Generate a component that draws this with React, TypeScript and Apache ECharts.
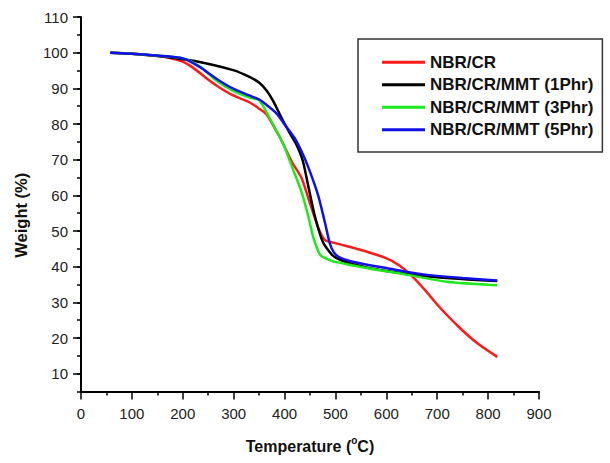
import React, { useEffect, useRef } from 'react';
import * as echarts from 'echarts';

const seriesNames = ['NBR/CR', 'NBR/CR/MMT (1Phr)', 'NBR/CR/MMT (3Phr)', 'NBR/CR/MMT (5Phr)'];
const seriesColors = ['#ff1a1a', '#000000', '#1ee81e', '#1010e8'];

const xTicks = [0, 100, 200, 300, 400, 500, 600, 700, 800, 900];
const yMajorTicks = [10, 20, 30, 40, 50, 60, 70, 80, 90, 100, 110];

// NBR/CR
const nbrCrTemp = [57, 100, 150, 180, 200, 220, 245, 266, 299, 331, 351, 364, 380, 390, 416, 433, 449, 466, 479, 500, 547, 596, 625, 650, 680, 703, 741, 779, 818];
const nbrCrWeight = [100, 99.7, 99.1, 98.3, 97.5, 95.8, 93.0, 90.8, 88.0, 86.1, 84.2, 82.8, 79.0, 76.5, 69.0, 65.0, 58.2, 51.0, 47.5, 46.6, 44.8, 42.6, 40.4, 37.4, 32.8, 28.9, 23.3, 18.5, 14.7];

// NBR/CR/MMT (1Phr)
const mmt1Temp = [57, 100, 135, 180, 233, 299, 331, 351, 365, 377, 387, 397, 410, 423, 436, 446, 459, 475, 495, 520, 560, 600, 650, 700, 760, 818];
const mmt1Weight = [100, 99.7, 99.3, 98.6, 97.4, 95.1, 93.2, 91.5, 89.3, 86.6, 83.8, 80.9, 77.5, 74.3, 69.6, 63.0, 54.5, 47.0, 43.1, 41.3, 39.8, 38.8, 37.8, 37.0, 36.4, 36.0];

// NBR/CR/MMT (3Phr)
const mmt3Temp = [57, 100, 150, 200, 233, 266, 299, 331, 345, 351, 364, 384, 397, 416, 433, 446, 456, 463, 469, 474, 495, 505, 566, 642, 718, 818];
const mmt3Weight = [100, 99.7, 99.2, 98.4, 96.2, 92.2, 89.3, 87.4, 87.0, 86.6, 83.5, 78.0, 74.5, 67.5, 61.1, 54.5, 48.5, 45.5, 43.5, 42.8, 41.5, 41.2, 39.5, 37.7, 35.8, 34.8];

// NBR/CR/MMT (5Phr)
const mmt5Temp = [57, 100, 150, 200, 233, 266, 299, 331, 351, 358, 384, 397, 420, 436, 449, 466, 479, 489, 497, 508, 528, 560, 604, 650, 680, 750, 818];
const mmt5Weight = [100, 99.7, 99.2, 98.4, 96.0, 92.7, 89.9, 88.0, 86.8, 86.1, 83.0, 80.5, 76.0, 71.5, 67.0, 60.0, 52.6, 46.5, 44.0, 42.6, 41.6, 40.6, 39.5, 38.3, 37.7, 36.8, 36.1];

const temps = [nbrCrTemp, mmt1Temp, mmt3Temp, mmt5Temp];
const weights = [nbrCrWeight, mmt1Weight, mmt3Weight, mmt5Weight];

const FONT = '"Liberation Sans", Arial, Helvetica, sans-serif';

function pairs(t: number[], w: number[]) {
  return t.map((x, i) => [x, w[i]]);
}

export default function App() {
  const ref = useRef<HTMLDivElement>(null);
  useEffect(() => {
    if (!ref.current) return;
    const chart = echarts.init(ref.current, undefined, { renderer: 'svg' });
    const tickStyle = { color: '#000', width: 1.5 };
    chart.setOption({
      animation: false,
      backgroundColor: '#ffffff',
      textStyle: { fontFamily: FONT },
      grid: { left: 81, top: 17, right: 71, bottom: 71 },
      legend: {
        orient: 'vertical',
        left: 358,
        top: 39,
        padding: [12, 9, 11, 24],
        borderColor: '#333',
        borderWidth: 1.5,
        backgroundColor: '#fff',
        icon: 'rect',
        itemWidth: 43,
        itemHeight: 3,
        itemGap: 0,
        textStyle: { fontFamily: FONT, fontWeight: 'bold', fontSize: 17, color: '#111', lineHeight: 22.5 },
        data: seriesNames,
      },
      xAxis: {
        type: 'value',
        min: xTicks[0],
        max: xTicks[xTicks.length - 1],
        interval: 100,
        name: 'Temperature ({sup|o}C)',
        nameLocation: 'middle',
        nameGap: 47,
        nameTextStyle: {
          fontFamily: FONT,
          fontWeight: 'bold',
          fontSize: 16,
          color: '#111',
          rich: {
            sup: { fontFamily: FONT, fontWeight: 'bold', fontSize: 10, lineHeight: 10, color: '#111', padding: [0, 0, 13, 0] },
          },
        },
        axisLine: { show: true, onZero: false, lineStyle: { color: '#000', width: 2 } },
        axisTick: { show: true, length: 8, lineStyle: tickStyle },
        minorTick: { show: true, splitNumber: 2, length: 4, lineStyle: tickStyle },
        splitLine: { show: false },
        minorSplitLine: { show: false },
        axisLabel: { margin: 14, fontSize: 15, color: '#222', fontFamily: FONT },
      },
      yAxis: [
        {
          type: 'value',
          min: 5,
          max: 110,
          position: 'left',
          name: 'Weight (%)',
          nameLocation: 'middle',
          nameGap: 52,
          nameTextStyle: { fontFamily: FONT, fontWeight: 'bold', fontSize: 16.5, color: '#111', padding: [0, 22, 0, 0] },
          axisLine: { show: true, onZero: false, lineStyle: { color: '#000', width: 2 } },
          axisTick: { show: true, length: 8, lineStyle: tickStyle, customValues: yMajorTicks },
          axisLabel: { customValues: yMajorTicks, margin: 13, fontSize: 15, color: '#222', fontFamily: FONT },
          splitLine: { show: false },
        },
        {
          type: 'value',
          min: 5,
          max: 110,
          interval: 5,
          position: 'left',
          axisLine: { show: false },
          axisTick: { show: true, length: 4, lineStyle: tickStyle },
          axisLabel: { show: false },
          splitLine: { show: false },
        },
      ],
      series: seriesNames.map((name, i) => ({
        name,
        type: 'line',
        yAxisIndex: 0,
        data: pairs(temps[i], weights[i]),
        smooth: 0.25,
        symbol: 'none',
        showSymbol: false,
        lineStyle: { color: seriesColors[i], width: 2.5 },
        itemStyle: { color: seriesColors[i] },
      })),
    });
    return () => chart.dispose();
  }, []);
  return <div ref={ref} style={{ position: 'absolute', left: 0, top: 0, width: 610, height: 463 }} />;
}
